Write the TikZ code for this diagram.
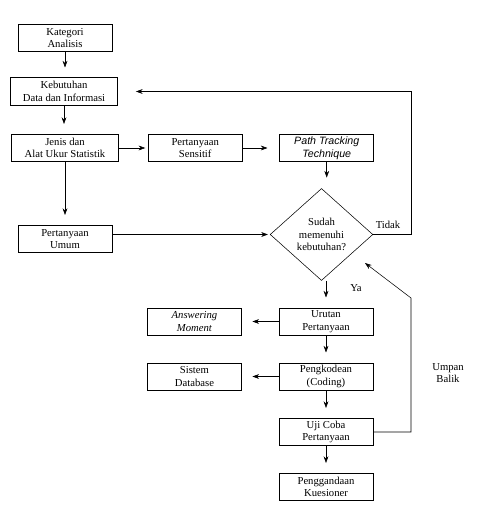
\documentclass[tikz,border=0pt]{standalone}
\usepackage{fontspec}
\setmainfont{Liberation Serif}
\newfontfamily\arialfont{Liberation Sans}
\usetikzlibrary{positioning,shapes.geometric,arrows.meta}

\begin{document}
\begin{tikzpicture}[x=0.75pt,y=-0.75pt]
\tikzset{box/.style={shape=rectangle,draw,align=center,minimum width=70.5pt,minimum height=20.6pt,inner sep=1pt,font=\fontsize{8}{9.5}\selectfont}}
\tikzset{widebox/.style={box,minimum width=80.5pt}}
\tikzset{decision/.style={shape=diamond,draw,align=center,minimum width=77pt,minimum height=69pt,inner sep=0pt,font=\fontsize{8}{9.4}\selectfont}}
\tikzset{lbl/.style={align=center,inner sep=0pt,font=\fontsize{8}{9.5}\selectfont}}
\tikzset{arr/.style={-{Stealth[length=5pt,width=3.6pt]},shorten >=7.5pt}}
\def\sgap{21.75pt}
\def\wgap{27.75pt}
\useasboundingbox (0,0) rectangle (480,509);
%
\node at (65,38) [box] (kategori) {Kategori\\Analisis};
\node at (64,91.5) [widebox] (kebutuhan) {Kebutuhan\\Data dan Informasi};
\node at (65,148) [widebox] (jenis) {Jenis dan\\Alat Ukur Statistik};
\node [box,right=\sgap of jenis] (sensitif) {Pertanyaan\\Sensitif};
\node [box,right=\wgap of sensitif] (path) {{\arialfont\itshape Path Tracking}\\{\arialfont\itshape Technique}};
\node at (65,239) [box] (umum) {Pertanyaan\\Umum};
\node at (321.5,234.5) [decision] (cek) {Sudah\\memenuhi\\kebutuhan?};
%
\node at (326,321.5) [box] (urutan) {Urutan\\Pertanyaan};
\node [box,left=\wgap of urutan] (answering) {\textit{Answering}\\\textit{Moment}};
\node at (326,376.5) [box] (kode) {Pengkodean\\(Coding)};
\node [box,left=\wgap of kode] (sistem) {Sistem\\Database};
\node at (326,432) [box] (uji) {Uji Coba\\Pertanyaan};
\node at (326,487) [box] (ganda) {Penggandaan\\Kuesioner};
%
\node at (388,225) [lbl] (tidak) {Tidak};
\node at (356,288) [lbl] (ya) {Ya};
\node at (448,373) [lbl] (umpan) {Umpan\\Balik};
\coordinate (tidakpojok) at (411,234.5);
\coordinate (balikatas) at (411,298);
\coordinate (baliktip) at (365,263);
%
\draw[arr] (kategori.south) -- (kategori.south |- kebutuhan.north);
\draw[arr] (kebutuhan.south) -- (kebutuhan.south |- jenis.north);
\draw[arr,shorten >=2pt] (jenis) -- (sensitif);
\draw[arr,shorten >=9pt] (sensitif) -- (path);
\draw[arr] (jenis) -- (umum);
\draw[arr,shorten >=1.5pt] (umum.east |- cek.west) -- (cek.west);
\draw[arr,shorten >=8pt] (path.south) -- (path.south |- cek.north);
\draw[arr,shorten >=13.5pt] (cek.east) -- (tidakpojok) |- (kebutuhan.east);
\draw[arr] (cek.south -| urutan.north) -- (urutan.north);
\draw[arr,shorten >=8pt] (urutan) -- (answering);
\draw[arr,shorten >=8pt] (kode) -- (sistem);
\draw[arr] (urutan) -- (kode);
\draw[arr] (kode) -- (uji);
\draw[arr] (uji) -- (ganda);
\draw[arr,shorten >=0pt] (uji.east) -| (balikatas) -- (baliktip);
\end{tikzpicture}
\end{document}
